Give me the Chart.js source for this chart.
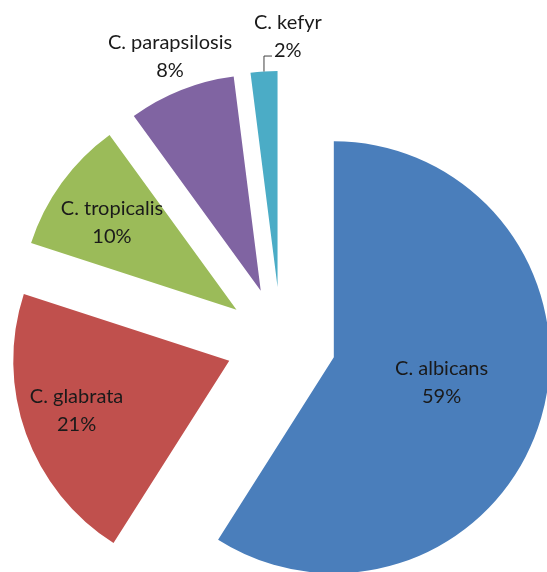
<!DOCTYPE html>
<html>
<head>
<meta charset="utf-8">
<script src="https://cdn.jsdelivr.net/npm/chart.js@4.4.1/dist/chart.umd.min.js"></script>
<style>
  html, body { margin: 0; padding: 0; background: #ffffff; }
  #wrap { position: relative; width: 547px; height: 572px; }
</style>
</head>
<body>
<div id="wrap"><canvas id="pie"></canvas></div>
<script>
// Candida species and their share of isolates (%)
const species = ['C. albicans', 'C. glabrata', 'C. tropicalis', 'C. parapsilosis', 'C. kefyr'];
const shares = [59, 21, 10, 8, 2];
const sliceColors = ['#4a7ebb', '#c0504d', '#9bbb59', '#8064a2', '#4bacc6'];

// Distance every slice is pulled out from the centre, in pixels
const EXPLODE = 55;
// Label placement: fraction of the radius along the slice's middle angle, plus a small nudge
const labelSpots = [
  { r: 0.51,  dx: 2,    dy: -6 },
  { r: 0.744, dx: -1.5, dy: -4.5 },
  { r: 0.704, dx: -1.5, dy: 2 },
  { r: 1.166, dx: 2,    dy: 0 },
  { r: 1.16,  dx: 26,   dy: 0, leader: true }
];
const LABEL_FONT = '20px Lato, "Open Sans", sans-serif';
const LINE_GAP = 28;

// Draws each arc shifted outward along its own middle angle
const explodePlugin = {
  id: 'explode',
  beforeDatasetDraw(chart, args) {
    const ctx = chart.ctx;
    args.meta.data.forEach(arc => {
      const mid = (arc.startAngle + arc.endAngle) / 2;
      ctx.save();
      ctx.translate(Math.cos(mid) * EXPLODE, Math.sin(mid) * EXPLODE);
      arc.draw(ctx);
      ctx.restore();
    });
    return false;
  }
};

// Two-line data labels: species name and percentage
const labelPlugin = {
  id: 'sliceLabels',
  afterDatasetsDraw(chart) {
    const ctx = chart.ctx;
    const meta = chart.getDatasetMeta(0);
    ctx.save();
    ctx.font = LABEL_FONT;
    ctx.fillStyle = '#1a1a1a';
    ctx.textAlign = 'center';
    ctx.textBaseline = 'middle';
    meta.data.forEach((arc, i) => {
      const { x, y, startAngle, endAngle, outerRadius } = arc.getProps(['x', 'y', 'startAngle', 'endAngle', 'outerRadius'], true);
      const mid = (startAngle + endAngle) / 2;
      const ux = Math.cos(mid), uy = Math.sin(mid);
      const bx = x + ux * EXPLODE, by = y + uy * EXPLODE;
      const spot = labelSpots[i];
      const cx = bx + ux * outerRadius * spot.r + spot.dx;
      const cy = by + uy * outerRadius * spot.r + spot.dy;
      const line1 = species[i];
      const line2 = shares[i] + '%';
      ctx.fillText(line1, cx, cy - LINE_GAP / 2);
      ctx.fillText(line2, cx, cy + LINE_GAP / 2);
      if (spot.leader) {
        const sx = bx + ux * outerRadius;
        const sy = by + uy * outerRadius;
        const w2 = ctx.measureText(line2).width;
        const ly = cy + LINE_GAP / 2 + 5;
        ctx.beginPath();
        ctx.moveTo(sx, sy);
        ctx.lineTo(sx, ly);
        ctx.lineTo(cx - w2 / 2 - 2, ly);
        ctx.strokeStyle = '#404040';
        ctx.lineWidth = 1;
        ctx.stroke();
      }
    });
    ctx.restore();
  }
};

new Chart(document.getElementById('pie'), {
  type: 'pie',
  data: {
    labels: species,
    datasets: [{
      data: shares,
      backgroundColor: sliceColors,
      borderWidth: 0,
      radius: 216
    }]
  },
  options: {
    responsive: true,
    maintainAspectRatio: false,
    animation: false,
    layout: { padding: { left: 15, right: 0, top: 112, bottom: 0 } },
    plugins: {
      legend: { display: false },
      tooltip: { enabled: false }
    }
  },
  plugins: [explodePlugin, labelPlugin]
});
</script>
</body>
</html>
